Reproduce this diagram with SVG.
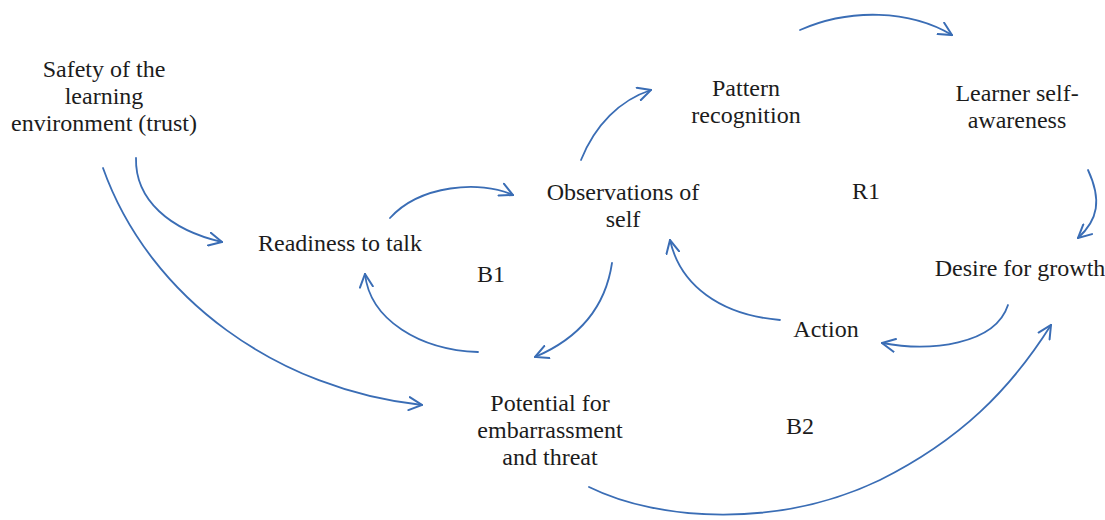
<svg xmlns="http://www.w3.org/2000/svg" width="1105" height="520" viewBox="0 0 1105 520">
  <style>
    text { font-family: 'Liberation Serif', 'Times New Roman', Times, serif; font-size: 24px; fill: #1c1c1c; text-anchor: middle; }
    .link { fill: none; stroke: #3A6DB5; stroke-width: 1.8; stroke-linecap: round; marker-end: url(#chev); }
  </style>
  <defs>
    <marker id="chev" viewBox="0 0 15 15" refX="14" refY="7.5" markerWidth="15" markerHeight="15" markerUnits="userSpaceOnUse" orient="auto">
      <path d="M1,1 L14,7.5 L1,14" fill="none" stroke="#3A6DB5" stroke-width="2" stroke-linecap="round" stroke-linejoin="miter"/>
    </marker>
  </defs>
  <rect width="1105" height="520" fill="#ffffff"/>

  <!-- causal links -->
  <g id="connectors">
    <path class="link" d="M136,158 C135,200 170,230 222,242"/>
    <path class="link" d="M103,168 C150,300 280,390 422,405"/>
    <path class="link" d="M390,218 C420,185 480,180 513,195"/>
    <path class="link" d="M581,160 C595,125 620,100 651,90"/>
    <path class="link" d="M800,30 C850,8 910,10 952,35"/>
    <path class="link" d="M1088,170 C1102,200 1098,220 1078,238"/>
    <path class="link" d="M1008,305 C995,345 930,352 882,343"/>
    <path class="link" d="M780,320 C720,315 680,285 670,240"/>
    <path class="link" d="M612,263 C605,310 575,340 535,357"/>
    <path class="link" d="M478,352 C420,350 370,320 365,274"/>
    <path class="link" d="M589,487 C660,522 780,528 880,480 C960,440 1010,390 1051,325"/>
  </g>

  <!-- variables -->
  <g id="safety">
    <text x="104" y="77">Safety of the</text>
    <text x="104" y="104">learning</text>
    <text x="104" y="131">environment (trust)</text>
  </g>
  <g id="readiness">
    <text x="340" y="251">Readiness to talk</text>
  </g>
  <g id="observations">
    <text x="623" y="200">Observations of</text>
    <text x="623" y="227">self</text>
  </g>
  <g id="pattern">
    <text x="746" y="96">Pattern</text>
    <text x="746" y="123">recognition</text>
  </g>
  <g id="awareness">
    <text x="1017" y="101">Learner self-</text>
    <text x="1017" y="128">awareness</text>
  </g>
  <g id="desire">
    <text x="1020" y="276">Desire for growth</text>
  </g>
  <g id="action">
    <text x="826" y="337">Action</text>
  </g>
  <g id="potential">
    <text x="550" y="411">Potential for</text>
    <text x="550" y="438">embarrassment</text>
    <text x="550" y="465">and threat</text>
  </g>

  <!-- loop labels -->
  <g id="loops">
    <text x="866" y="199">R1</text>
    <text x="491" y="282">B1</text>
    <text x="800" y="434">B2</text>
  </g>
</svg>
